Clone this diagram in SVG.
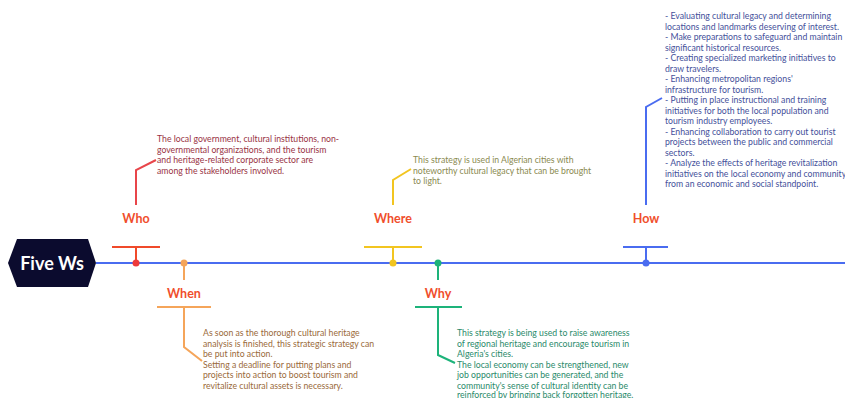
<svg xmlns="http://www.w3.org/2000/svg" width="845" height="398" viewBox="0 0 845 398">
  <style>
    .lbl { font-family: Lato, "Liberation Sans", sans-serif; font-weight: bold; font-size: 12.5px; fill: #f04e2c; text-anchor: middle; }
    .body { font-family: Lato, "Liberation Sans", sans-serif; font-size: 8.7px; }
    .ln { fill: none; stroke-width: 2; }
  </style>
  <rect width="845" height="398" fill="#ffffff"/>

  <!-- timeline axis -->
  <g id="connectors">
    <line x1="96" y1="263" x2="845" y2="263" stroke="#4a6cf0" stroke-width="2"/>
  </g>

  <!-- title hexagon -->
  <g id="title">
    <polygon points="8,263 17,239 88,239 96,263 88,287 17,287" fill="#0b0b2e"/>
    <text x="52" y="269.5" font-family="Lato, 'Liberation Sans', sans-serif" font-weight="bold" font-size="18" fill="#ffffff" text-anchor="middle">Five Ws</text>
  </g>

  <!-- Who -->
  <g id="who">
    <line class="ln" x1="112" y1="247" x2="160" y2="247" stroke="#f04a2a"/>
    <line class="ln" x1="136" y1="247" x2="136" y2="263" stroke="#f04a2a"/>
    <circle cx="136" cy="263" r="3.5" fill="#ee3a3a"/>
    <text class="lbl" x="136" y="223">Who</text>
    <polyline class="ln" points="136,205 136,170 156,160" stroke="#e8454a" stroke-width="1.5"/>
    <text class="body" fill="#993344">
      <tspan x="157" y="142">The local government, cultural institutions, non-</tspan>
      <tspan x="157" y="152.5">governmental organizations, and the tourism</tspan>
      <tspan x="157" y="163">and heritage-related corporate sector are</tspan>
      <tspan x="157" y="173.5">among the stakeholders involved.</tspan>
    </text>
  </g>

  <!-- When -->
  <g id="when">
    <circle cx="184" cy="263" r="3.5" fill="#f5a55a"/>
    <line class="ln" x1="184" y1="263" x2="184" y2="280" stroke="#f5a55a" stroke-width="1.5"/>
    <text class="lbl" x="184" y="298">When</text>
    <line class="ln" x1="157" y1="307" x2="211" y2="307" stroke="#f5a55a"/>
    <polyline class="ln" points="184,307 184,347 202,361" stroke="#f5a55a" stroke-width="1.5"/>
    <text class="body" fill="#9a6a3a">
      <tspan x="203" y="336">As soon as the thorough cultural heritage</tspan>
      <tspan x="203" y="346.5">analysis is finished, this strategic strategy can</tspan>
      <tspan x="203" y="357">be put into action.</tspan>
      <tspan x="203" y="367.5">Setting a deadline for putting plans and</tspan>
      <tspan x="203" y="378">projects into action to boost tourism and</tspan>
      <tspan x="203" y="388.5">revitalize cultural assets is necessary.</tspan>
    </text>
  </g>

  <!-- Where -->
  <g id="where">
    <line class="ln" x1="364" y1="247" x2="422" y2="247" stroke="#f2c520"/>
    <line class="ln" x1="393" y1="247" x2="393" y2="263" stroke="#f2c520"/>
    <circle cx="393" cy="263" r="3.5" fill="#f2c520"/>
    <text class="lbl" x="393" y="223">Where</text>
    <polyline class="ln" points="393,205 393,180 411,169" stroke="#f2c520" stroke-width="1.5"/>
    <text class="body" fill="#8a8a50">
      <tspan x="413" y="163">This strategy is used in Algerian cities with</tspan>
      <tspan x="413" y="173.5">noteworthy cultural legacy that can be brought</tspan>
      <tspan x="413" y="184">to light.</tspan>
    </text>
  </g>

  <!-- Why -->
  <g id="why">
    <circle cx="438" cy="263" r="3.5" fill="#1db37a"/>
    <line class="ln" x1="438" y1="263" x2="438" y2="280" stroke="#1db37a" stroke-width="1.5"/>
    <text class="lbl" x="438" y="298">Why</text>
    <line class="ln" x1="415" y1="307" x2="462" y2="307" stroke="#1db37a"/>
    <polyline class="ln" points="438,307 438,355 455,363" stroke="#1db37a" stroke-width="1.5"/>
    <text class="body" fill="#2a8a6a">
      <tspan x="457" y="336">This strategy is being used to raise awareness</tspan>
      <tspan x="457" y="346.5">of regional heritage and encourage tourism in</tspan>
      <tspan x="457" y="357">Algeria's cities.</tspan>
      <tspan x="457" y="367.5">The local economy can be strengthened, new</tspan>
      <tspan x="457" y="378">job opportunities can be generated, and the</tspan>
      <tspan x="457" y="388.5">community's sense of cultural identity can be</tspan>
      <tspan x="457" y="398">reinforced by bringing back forgotten heritage.</tspan>
    </text>
  </g>

  <!-- How -->
  <g id="how">
    <line class="ln" x1="623" y1="247" x2="668" y2="247" stroke="#4a6cf0"/>
    <line class="ln" x1="646" y1="247" x2="646" y2="263" stroke="#4a6cf0"/>
    <circle cx="646" cy="263" r="3.5" fill="#4a6cf0"/>
    <text class="lbl" x="646" y="223">How</text>
    <polyline class="ln" points="646,205 646,107 662,98" stroke="#4a6cf0" stroke-width="1.5"/>
    <text class="body" fill="#44509a">
      <tspan x="665" y="19">- Evaluating cultural legacy and determining</tspan>
      <tspan x="665" y="29.5">locations and landmarks deserving of interest.</tspan>
      <tspan x="665" y="40">- Make preparations to safeguard and maintain</tspan>
      <tspan x="665" y="50.5">significant historical resources.</tspan>
      <tspan x="665" y="61">- Creating specialized marketing initiatives to</tspan>
      <tspan x="665" y="71.5">draw travelers.</tspan>
      <tspan x="665" y="82">- Enhancing metropolitan regions'</tspan>
      <tspan x="665" y="92.5">infrastructure for tourism.</tspan>
      <tspan x="665" y="103">- Putting in place instructional and training</tspan>
      <tspan x="665" y="113.5">initiatives for both the local population and</tspan>
      <tspan x="665" y="124">tourism industry employees.</tspan>
      <tspan x="665" y="134.5">- Enhancing collaboration to carry out tourist</tspan>
      <tspan x="665" y="145">projects between the public and commercial</tspan>
      <tspan x="665" y="155.5">sectors.</tspan>
      <tspan x="665" y="166">- Analyze the effects of heritage revitalization</tspan>
      <tspan x="665" y="176.5">initiatives on the local economy and community</tspan>
      <tspan x="665" y="187">from an economic and social standpoint.</tspan>
    </text>
  </g>
</svg>
